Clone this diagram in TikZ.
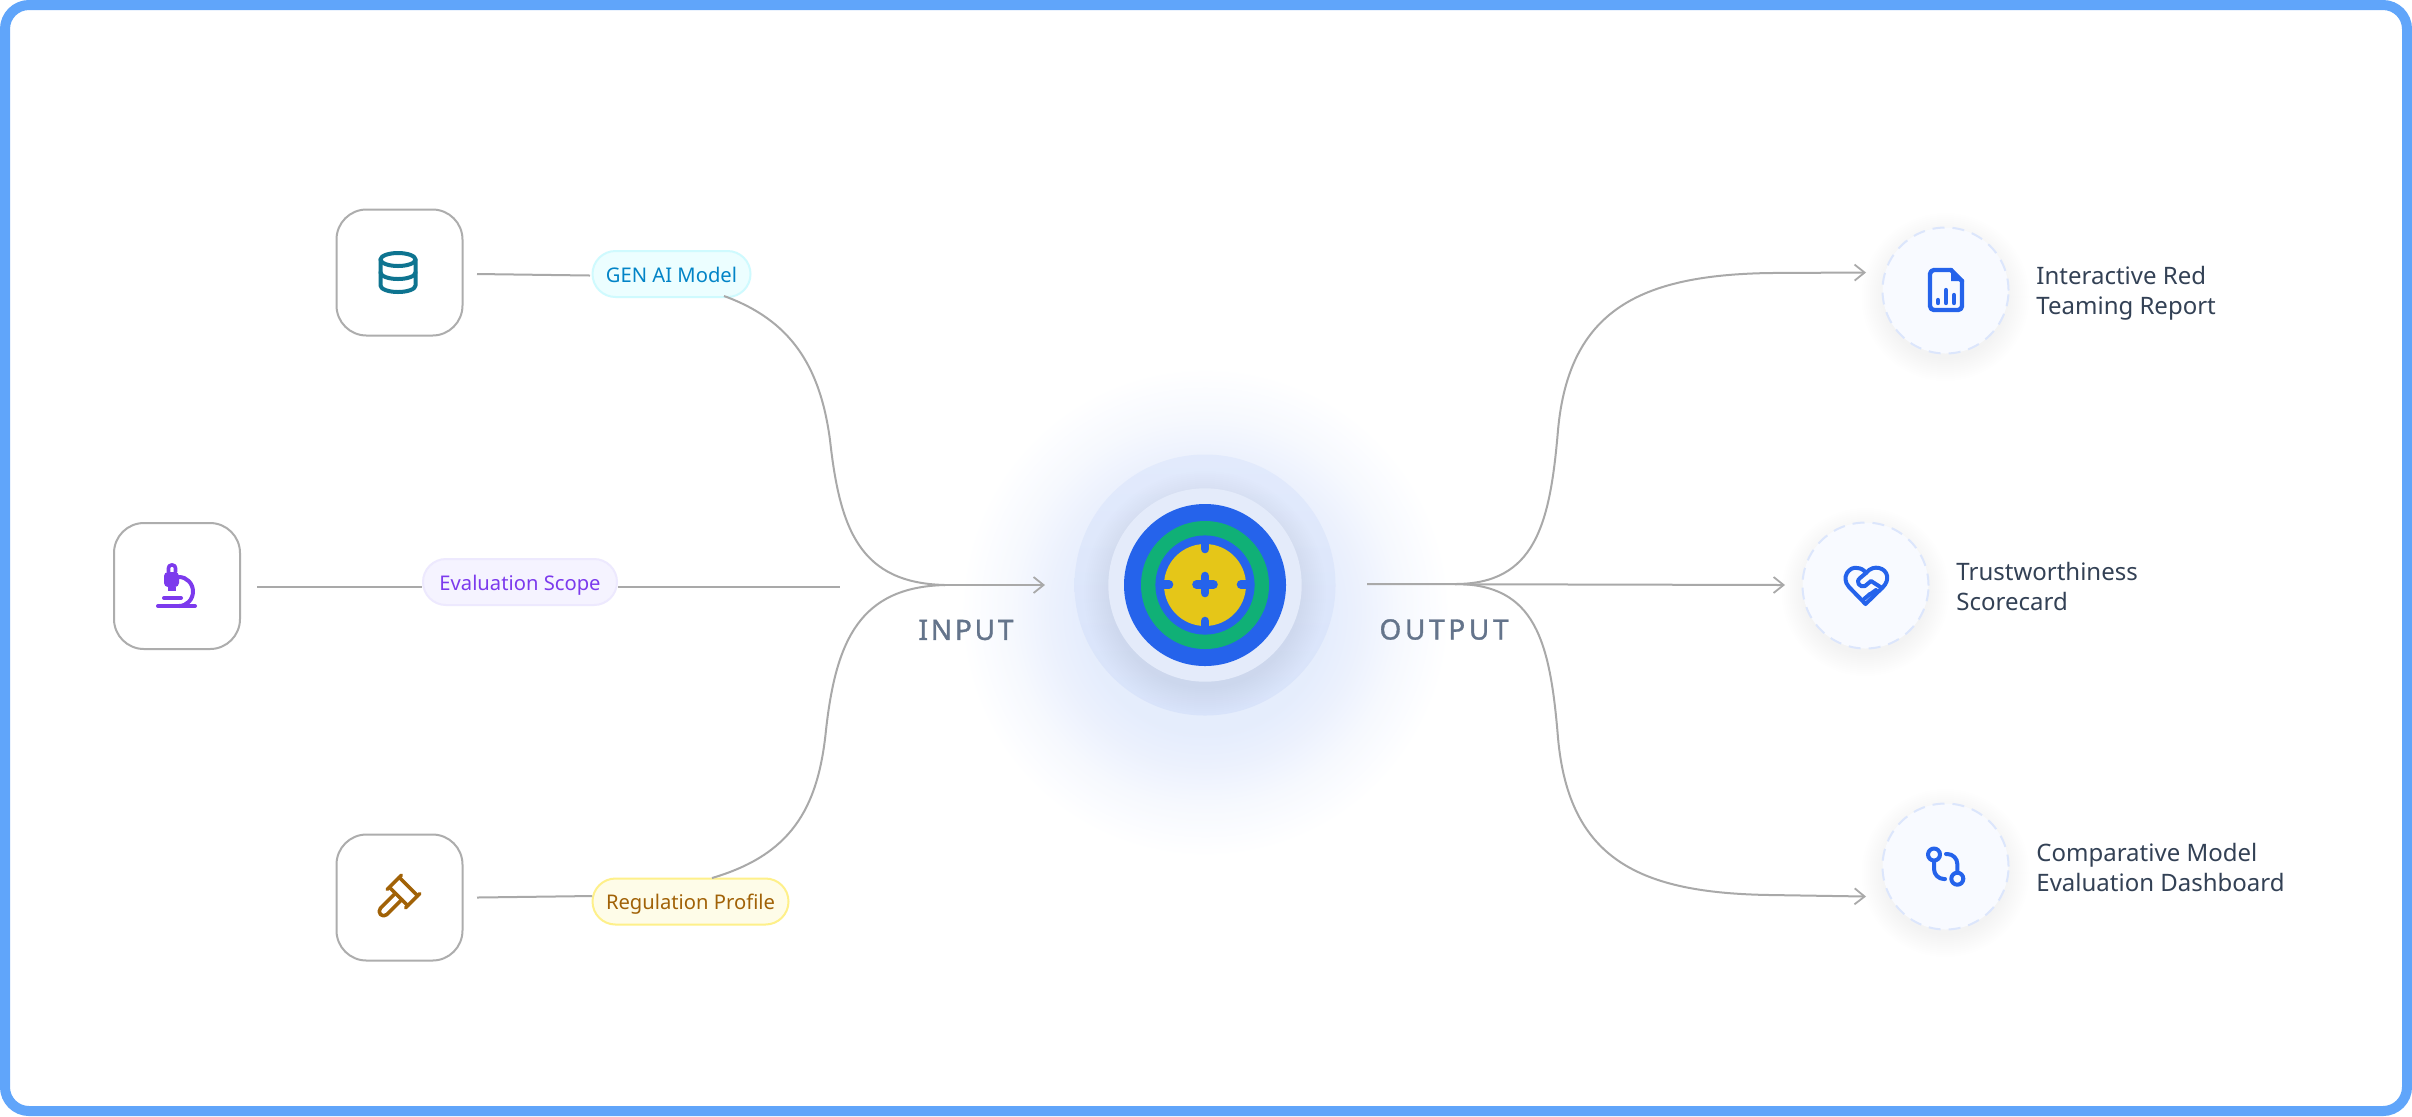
\documentclass[tikz,border=0pt]{standalone}
\usepackage{fontspec}
\setmainfont{Noto Sans}
\usetikzlibrary{arrows.meta,shapes.misc}
\definecolor{frameblue}{HTML}{60A5FA}
\definecolor{linegrey}{HTML}{A9A9A9}
\definecolor{boxgrey}{HTML}{ADADAD}
\definecolor{slate}{HTML}{64748B}
\definecolor{darkslate}{HTML}{334155}
\definecolor{dbteal}{HTML}{0E7490}
\definecolor{skytext}{HTML}{0284C7}
\definecolor{violet}{HTML}{7C3AED}
\definecolor{amber}{HTML}{A16207}
\definecolor{royal}{HTML}{2563EB}
\definecolor{emer}{HTML}{10B076}
\definecolor{gold}{HTML}{E5C618}
\definecolor{dashblue}{HTML}{DCE6FC}
\definecolor{softwhite}{HTML}{F8FAFF}
\definecolor{cyanfill}{HTML}{ECFEFF}
\definecolor{cyanline}{HTML}{CFFAFE}
\definecolor{violetfill}{HTML}{F5F3FF}
\definecolor{violetline}{HTML}{EDE9FE}
\definecolor{amberfill}{HTML}{FEFCE8}
\definecolor{amberline}{HTML}{FEF08A}
\definecolor{halotop}{HTML}{E2EAFC}
\definecolor{halobot}{HTML}{D8E3FA}
\definecolor{platefill}{HTML}{E4EBFA}
\pgfdeclareradialshading{glowshade}{\pgfpointorigin}{
  rgb(0bp)=(0.88,0.915,0.985);
  rgb(10.8bp)=(0.90,0.93,0.99);
  rgb(13.5bp)=(0.925,0.945,0.993);
  rgb(17bp)=(0.965,0.975,0.997);
  rgb(21.5bp)=(1,1,1);
  rgb(50bp)=(1,1,1)}
\tikzset{
  x=0.5pt,y=-0.5pt,
  conn/.style={draw=linegrey,line width=1pt},
  arrowconn/.style={conn,-{Straight Barb[length=5pt,width=8pt,line width=0.9pt]}},
  inbox/.style={draw=boxgrey,line width=1pt,fill=white,rounded corners=15pt,minimum width=63pt,minimum height=63pt,inner sep=0pt},
  pill/.style={rounded rectangle,line width=1pt,inner sep=0pt,minimum height=23pt,font=\fontsize{10.1}{12}\selectfont,text height=10pt,text depth=2pt},
  outcircle/.style={circle,draw=dashblue,fill=softwhite,line width=1pt,dash pattern=on 6pt off 4pt,minimum size=63pt,inner sep=0pt},
  outtext/.style={anchor=west,inner sep=0pt,align=left,text=darkslate,font=\fontsize{12}{15}\selectfont},
  flowlabel/.style={text=slate,inner sep=0pt,font=\fontsize{14}{16}\selectfont\addfontfeature{LetterSpace=10,FakeBold=1.2}},
  ring/.style={circle,inner sep=0pt},
  iconline/.style={line width=2pt,line cap=round,line join=round}
}
\begin{document}
\begin{tikzpicture}
\useasboundingbox (0,0) rectangle (2412,1116);
\fill[white] (0,0) rectangle (2412,1116);
\draw[frameblue,line width=5pt,rounded corners=12pt] (5,5) rectangle (2407,1111);
% glow
\shade[shading=glowshade] (1205,612) circle[radius=285];
% input boxes
\node[inbox] (box1) at (399.5,272.5) {};
\node[inbox] (box2) at (177,586) {};
\node[inbox] (box3) at (399.5,897.5) {};
% pills
\node[pill,draw=cyanline,fill=cyanfill,text=skytext,minimum width=79pt] (pill1) at (671.5,274) {GEN AI Model};
\node[pill,draw=violetline,fill=violetfill,text=violet,minimum width=97pt] (pill2) at (520,582) {Evaluation Scope};
\node[pill,draw=amberline,fill=amberfill,text=amber,minimum width=98pt] (pill3) at (690.5,901.5) {Regulation Profile};
% free connector ends
\coordinate (in1) at (477,274);
\coordinate (in1b) at (590,275.5);
\coordinate (in2) at (257,586.5);
\coordinate (in2b) at (840,586.5);
\coordinate (in3) at (477,897.5);
\coordinate (in3b) at (592,896);
\coordinate (c1s) at (724,296);
\coordinate (c3s) at (712,878);
\coordinate (hub) at (945,585);
\coordinate (inTip) at (1045,585);
\coordinate (outS) at (1367,584);
\coordinate (outHub) at (1455,584);
\coordinate (t1) at (1866,272.5);
\coordinate (t2) at (1785,585);
\coordinate (t3) at (1866,896.5);
% connectors
\draw[conn] (in1) -- (in1b);
\draw[conn] (in2) -- (pill2.west |- in2);
\draw[conn] (pill2.east |- in2) -- (in2b);
\draw[conn] (in3) -- (in3b);
\draw[conn] (c1s) .. controls (790,320) and (820,365) .. (830,440) .. controls (840,530) and (860,583) .. (hub);
\draw[conn] (c3s) .. controls (790,855) and (818,810) .. (826,730) .. controls (836,640) and (860,587) .. (hub);
\draw[arrowconn] (hub) -- (inTip);
\draw[arrowconn] (outS) -- (t2);
\draw[arrowconn] (outHub) .. controls (1535,584) and (1550,525) .. (1558,430) .. controls (1569,310) and (1640,275) .. (1770,273) -- (t1);
\draw[arrowconn] (outHub) .. controls (1535,584) and (1550,640) .. (1558,738) .. controls (1569,860) and (1640,893) .. (1770,895) -- (t3);
% labels
\node[flowlabel] (inlab) at (966,630) {INPUT};
\node[flowlabel,font=\fontsize{14}{16}\selectfont\addfontfeature{LetterSpace=13,FakeBold=1.2}] (outlab) at (1444,629.5) {OUTPUT};
% centre
\node[ring,top color=halotop,bottom color=halobot,minimum size=130.5pt] (halo) at (1205,585) {};
\foreach \k in {0,2,...,24}{\fill[black,opacity=0.003] (1205,592) circle[radius=97+\k];}
\node[ring,fill=platefill,minimum size=96.7pt] (plate) at (1205,585) {};
\node[ring,fill=royal,minimum size=81pt] (discblue) at (1205,585) {};
\node[ring,fill=emer,minimum size=64pt] (discgreen) at (1205,585) {};
\node[ring,fill=royal,minimum size=49.6pt] (discinner) at (1205,585) {};
\node[ring,fill=gold,minimum size=41pt] (discgold) at (1205,585) {};
\begin{scope}[royal,line width=4.3pt,line cap=round]
  \draw (1205,540) -- (1205,549);
  \draw (1205,621) -- (1205,630);
  \draw (1160,584.5) -- (1169,584.5);
  \draw (1241,584.5) -- (1250,584.5);
  \draw (1205,576) -- (1205,593);
  \draw (1196.5,584.5) -- (1213.5,584.5);
\end{scope}
% icon: database
\begin{scope}[dbteal,iconline]
  \draw (398,259.5) ellipse[x radius=17.5,y radius=6.5];
  \draw (380.5,259.5) -- (380.5,285.5) arc[start angle=180,end angle=360,x radius=17.5,y radius=-6.5] -- (415.5,259.5);
  \draw (380.5,272.5) arc[start angle=180,end angle=360,x radius=17.5,y radius=-6.5];
\end{scope}
% icon: microscope
\begin{scope}[violet,iconline]
  \draw (158,606) -- (195,606);
  \draw (164,598) -- (181,598);
  \draw (179,577) arc[start angle=90,end angle=-90,x radius=14,y radius=-14.5];
  \fill[rounded corners=2pt] (164,572) rectangle (179,587);
  \fill (167.5,587) rectangle (175.5,591);
  \draw[line width=1.8pt,rounded corners=1.5pt] (168.5,572) -- (168.5,565) -- (175.5,565) -- (175.5,572);
\end{scope}
% icon: gavel
\begin{scope}[shift={(403.5,891.5)},rotate=-45,amber,line width=1.8pt,line cap=round,line join=round]
  \draw (-13,-10) -- (-13,10);
  \draw (13,-10) -- (13,10);
  \draw (-13,-7) -- (13,-7);
  \draw (-13,7) -- (13,7);
  \draw (-4.5,7) -- (-4.5,28) arc[start angle=180,end angle=360,x radius=4.5,y radius=-4.5] -- (4.5,7);
\end{scope}
% outputs
\foreach \cx/\cy in {1945.5/297,1865.5/592,1945.5/873}{\foreach \k in {0,2,...,22}{\fill[black,opacity=0.0035] (\cx,\cy) circle[radius=62+\k];}}
\node[outcircle] (o1) at (1945.5,290.5) {};
\node[outcircle] (o2) at (1865.5,585.5) {};
\node[outcircle] (o3) at (1945.5,866.5) {};
\node[outtext] (o1t) at (2036,293) {Interactive Red\\Teaming Report};
\node[outtext] (o2t) at (1956,586) {Trustworthiness\\Scorecard};
\node[outtext] (o3t) at (2036,867) {Comparative Model\\Evaluation Dashboard};
% icon: file
\begin{scope}[royal,line width=2.2pt,line join=round,line cap=round]
  \draw[rounded corners=2pt] (1951,270) -- (1930,270) -- (1930,310) -- (1962,310) -- (1962,281);
  \draw (1951,270) -- (1962,281);
  \fill (1951,270) -- (1962,281) -- (1951,281) -- cycle;
  \draw (1938,300) -- (1938,303);
  \draw (1946,290) -- (1946,303);
  \draw (1954,295) -- (1954,303);
\end{scope}
% icon: heart
\begin{scope}[royal,iconline]
  \draw (1865.5,604) -- (1849,587) .. controls (1840,577) and (1850,566) .. (1857,568) .. controls (1861,568) and (1864,570) .. (1866,573) .. controls (1870,568) and (1875,567) .. (1879,568) .. controls (1888,570) and (1890,580) .. (1883,587) -- cycle;
  \draw (1866,573) -- (1860,578) .. controls (1855,582) and (1860,588) .. (1865,586) -- (1871,581) -- (1882,588);
  \draw (1869,595) -- (1876,590);
  \draw (1864,599) -- (1870,594);
\end{scope}
% icon: compare
\begin{scope}[royal,iconline]
  \draw (1934,854.5) circle[radius=6];
  \draw (1957.3,878.7) circle[radius=6];
  \draw[rounded corners=5pt] (1934,861) -- (1934,879) -- (1945,879);
  \draw[rounded corners=5pt] (1946,854) -- (1957.3,854) -- (1957.3,872);
\end{scope}
\end{tikzpicture}
\end{document}
